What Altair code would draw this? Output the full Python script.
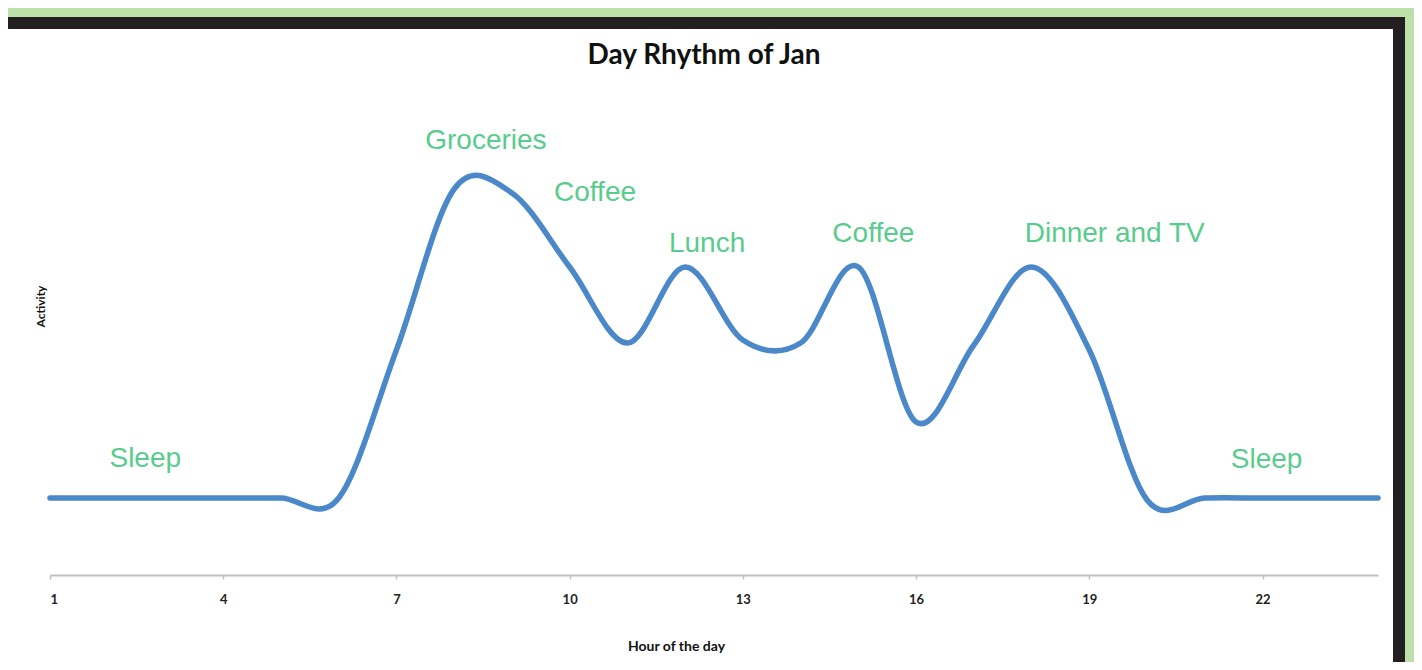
import altair as alt
import pandas as pd

# ---- data ----
hours = list(range(1, 25))
activity = [1.54, 1.54, 1.54, 1.54, 1.54, 1.54, 4.5, 7.72, 7.64, 6.16, 4.64, 6.16,
            4.7, 4.64, 6.16, 3.06, 4.6, 6.16, 4.5, 1.5, 1.54, 1.54, 1.54, 1.54]

label_text = ["Sleep", "Groceries", "Coffee", "Lunch", "Coffee", "Dinner and TV", "Sleep"]
label_hour = [2.65, 8.55, 10.44, 12.38, 15.26, 19.44, 22.07]
label_level = [2.16, 8.52, 7.48, 6.46, 6.66, 6.66, 2.14]

tick_values = [1, 4, 7, 10, 13, 16, 19, 22]

line_df = pd.DataFrame({"hour": hours, "activity": activity})
lab_df = pd.DataFrame({"text": label_text, "hour": label_hour, "level": label_level})
one = pd.DataFrame({"k": [0]})

PLOT_W, PLOT_H = 1328, 500
PAD = {"left": 42, "right": 36, "top": 67, "bottom": 87}

xs = alt.Scale(domain=[1, 24], nice=False, zero=False)
ys = alt.Scale(domain=[0, 10], nice=False, zero=True)

# decorative frame (black border + white card on green page)
frame_black = alt.Chart(one).mark_rect(color="#231f20").encode(
    x=alt.value(-42), x2=alt.value(1355), y=alt.value(-58), y2=alt.value(587)
)
frame_white = alt.Chart(one).mark_rect(color="#ffffff").encode(
    x=alt.value(-42), x2=alt.value(1343), y=alt.value(-46), y2=alt.value(587)
)

line = alt.Chart(line_df).mark_line(
    interpolate="cardinal", color="#4a88c9", strokeWidth=5.5, strokeCap="round"
).encode(
    x=alt.X("hour:Q", scale=xs, axis=alt.Axis(
        values=tick_values, format="d", title="Hour of the day", zindex=1,
        domainColor="#bfbfbf", domainWidth=2, tickColor="#bfbfbf", tickWidth=1.5, tickSize=4,
        labelFont="Lato", labelFontWeight="bold", labelFontSize=13, labelColor="#222222",
        labelBaseline="alphabetic", labelPadding=24, grid=False,
        titleFont="Lato", titleFontWeight="bold", titleFontSize=14, titleColor="#111111",
        titleX=626, titleY=75, titleBaseline="alphabetic", titleAlign="center",
    )),
    y=alt.Y("activity:Q", scale=ys, axis=alt.Axis(
        title="Activity", domain=False, ticks=False, labels=False, grid=False, zindex=1,
        titleFont="Lato", titleFontWeight="bold", titleFontSize=12, titleColor="#111111",
        titleX=-6, titleY=231, titleAngle=-90, titleBaseline="alphabetic", titleAlign="center",
    )),
)

labels = alt.Chart(lab_df).mark_text(
    font="Liberation Sans", fontSize=28, color="#58cc8c", align="center", baseline="alphabetic"
).encode(
    x=alt.X("hour:Q", scale=xs),
    y=alt.Y("level:Q", scale=ys),
    text="text:N",
)

chart = alt.layer(frame_black, frame_white, line, labels).properties(
    width=PLOT_W, height=PLOT_H,
    autosize=alt.AutoSizeParams(type="none"),
    padding=PAD,
    background="#bddfa8",
    title=alt.TitleParams(
        "Day Rhythm of Jan", font="Lato", fontWeight="bold", fontSize=28, color="#111111",
        anchor="middle", frame="group", baseline="alphabetic", offset=10, dx=-10, dy=85,
        zindex=1,
    ),
).configure_view(stroke=None)

chart.save("out.html", embed_options={"renderer": "svg", "actions": False})
